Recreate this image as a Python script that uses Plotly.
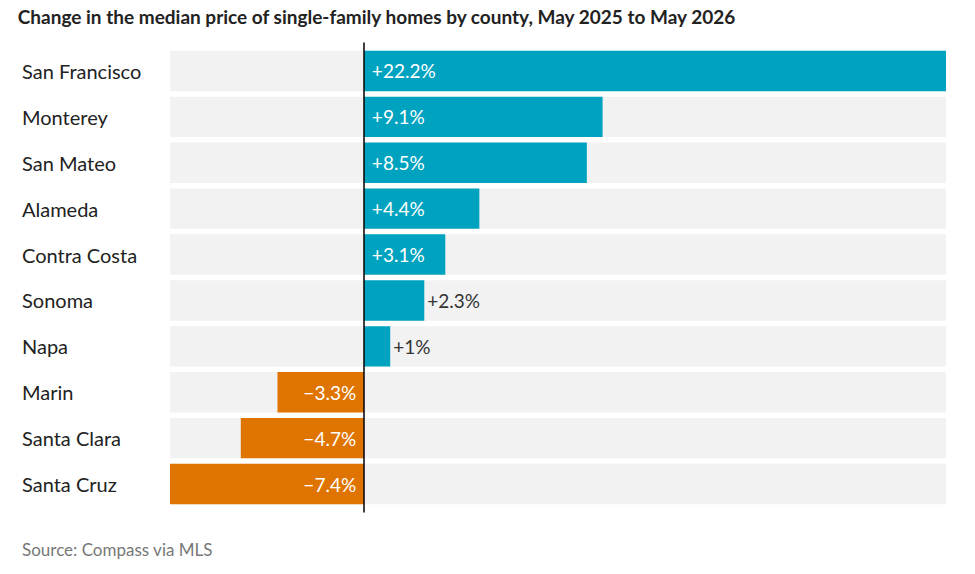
import plotly.graph_objects as go

counties = ["San Francisco", "Monterey", "San Mateo", "Alameda", "Contra Costa",
            "Sonoma", "Napa", "Marin", "Santa Clara", "Santa Cruz"]
changes = [22.2, 9.1, 8.5, 4.4, 3.1, 2.3, 1.0, -3.3, -4.7, -7.4]
labels = ["+22.2%", "+9.1%", "+8.5%", "+4.4%", "+3.1%", "+2.3%", "+1%",
          "\u22123.3%", "\u22124.7%", "\u22127.4%"]
outside = ["Sonoma", "Napa"]

xmin, xmax = min(changes), max(changes)
colors = ["#00a3bf" if v > 0 else "#e07400" for v in changes]
positions = ["outside" if c in outside else "inside" for c in counties]
text_colors = ["#333333" if c in outside else "white" for c in counties]
# small padding from the zero line for inside labels
shown = []
for c, v, t in zip(counties, changes, labels):
    if c in outside:
        shown.append(t)
    elif v > 0:
        shown.append("\u00a0" + t)
    else:
        shown.append(t + "\u00a0")

fig = go.Figure()
# light gray background rows
fig.add_trace(go.Bar(
    y=counties, x=[xmax - xmin] * len(counties), base=xmin, orientation="h",
    marker=dict(color="#f2f2f2", line=dict(width=0)), hoverinfo="skip",
    showlegend=False,
))
fig.add_trace(go.Bar(
    y=counties, x=changes, orientation="h",
    marker=dict(color=colors, line=dict(width=0)),
    text=shown, textposition=positions, insidetextanchor="start",
    textfont=dict(size=19, color=text_colors), outsidetextfont=dict(size=19, color="#333333"),
    cliponaxis=False, showlegend=False,
))

for c in counties:
    fig.add_annotation(x=-0.1933, xref="paper", y=c, yref="y", text=c,
                       xanchor="left", showarrow=False,
                       font=dict(size=20, color="#222222"))

fig.add_shape(type="line", x0=0, x1=0, xref="x", y0=-0.012, y1=1.012, yref="paper",
              line=dict(color="black", width=1.5))

fig.add_annotation(x=-0.1933, xref="paper", y=-0.065, yref="paper", yanchor="top",
                   xanchor="left", showarrow=False, text="Source: Compass via MLS",
                   font=dict(size=17, color="#777777"))

fig.update_layout(
    title=dict(text="<b>Change in the median price of single-family homes by county, May 2025 to May 2026</b>",
               x=0.01, xanchor="left", y=0.995, yanchor="top",
               font=dict(size=19, color="#222222")),
    font=dict(family="Lato, sans-serif"),
    barmode="overlay", bargap=0.12,
    width=975, height=574,
    margin=dict(l=162, r=37, t=40, b=75),
    plot_bgcolor="white", paper_bgcolor="white",
    xaxis=dict(range=[xmin, xmax], visible=False, fixedrange=True),
    yaxis=dict(autorange="reversed", showticklabels=False, showgrid=False,
               zeroline=False, fixedrange=True),
    uniformtext=dict(minsize=19),
)

fig.write_html("out.html")
